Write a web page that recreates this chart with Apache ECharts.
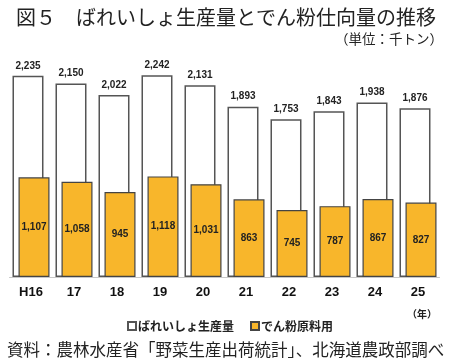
<!DOCTYPE html>
<html><head><meta charset="utf-8">
<script src="https://cdn.jsdelivr.net/npm/echarts@6/dist/echarts.min.js"></script>
<style>html,body{margin:0;padding:0;background:#fff}#c{width:450px;height:363px}</style>
</head><body><div id="c"></div>
<script>
const categories = ['H16','17','18','19','20','21','22','23','24','25'];
const production = [2235,2150,2022,2242,2131,1893,1753,1843,1938,1876];
const starch = [1107,1058,945,1118,1031,863,745,787,867,827];
const seriesNames = ['ばれいしょ生産量','でん粉原料用'];

const chart = echarts.init(document.getElementById('c'));
const fmt = p => p.value.toLocaleString('en-US');
const jp = '"Noto Sans CJK JP", sans-serif';
const num = '"Liberation Sans", Arial, sans-serif';
chart.setOption({
  animation:false,
  title:[
    {text:'図５　ばれいしょ生産量とでん粉仕向量の推移', left:11, top:2,
     textStyle:{fontFamily:jp, fontSize:20, fontWeight:'normal', color:'#222'}},
    {text:'（単位：千トン）', right:2, top:27,
     textStyle:{fontFamily:jp, fontSize:13.5, fontWeight:'normal', color:'#222'}},
    {text:'（年）', right:8, top:304,
     textStyle:{fontFamily:jp, fontSize:10, fontWeight:'bold', color:'#222'}},
    {text:'資料：農林水産省「野菜生産出荷統計」、北海道農政部調べ', left:2, top:336,
     textStyle:{fontFamily:jp, fontSize:16.5, fontWeight:'normal', color:'#222'}}
  ],
  legend:{
    data:seriesNames, left:122, top:315, itemWidth:8, itemHeight:8, itemGap:16,
    icon:'rect',
    textStyle:{fontFamily:jp, fontSize:12, fontWeight:'bold', color:'#222', padding:[0,0,0,-3]}
  },
  grid:{left:9.5, right:10.5, top:52, bottom:86},
  xAxis:{
    type:'category', data:categories,
    axisLine:{lineStyle:{color:'#c8c8c8', width:1}},
    axisTick:{show:false},
    axisLabel:{fontFamily:num, fontSize:13, fontWeight:'bold', color:'#111', margin:9}
  },
  yAxis:{type:'value', min:0, max:2500, show:false, splitLine:{show:false}},
  series:[
    {name:seriesNames[0], type:'bar', data:production, barWidth:31, barGap:'-80.6%',
     itemStyle:{color:'#fff', borderColor:'#555', borderWidth:1.5},
     label:{show:true, position:'top', distance:5, formatter:fmt,
       fontFamily:num, fontSize:10, fontWeight:'bold', color:'#222'}},
    {name:seriesNames[1], type:'bar', data:starch, barWidth:31,
     itemStyle:{color:'#F8B62B', borderColor:'#444', borderWidth:1.2},
     label:{show:true, position:'inside', formatter:fmt,
       fontFamily:num, fontSize:10, fontWeight:'bold', color:'#222'}}
  ]
});
</script></body></html>
